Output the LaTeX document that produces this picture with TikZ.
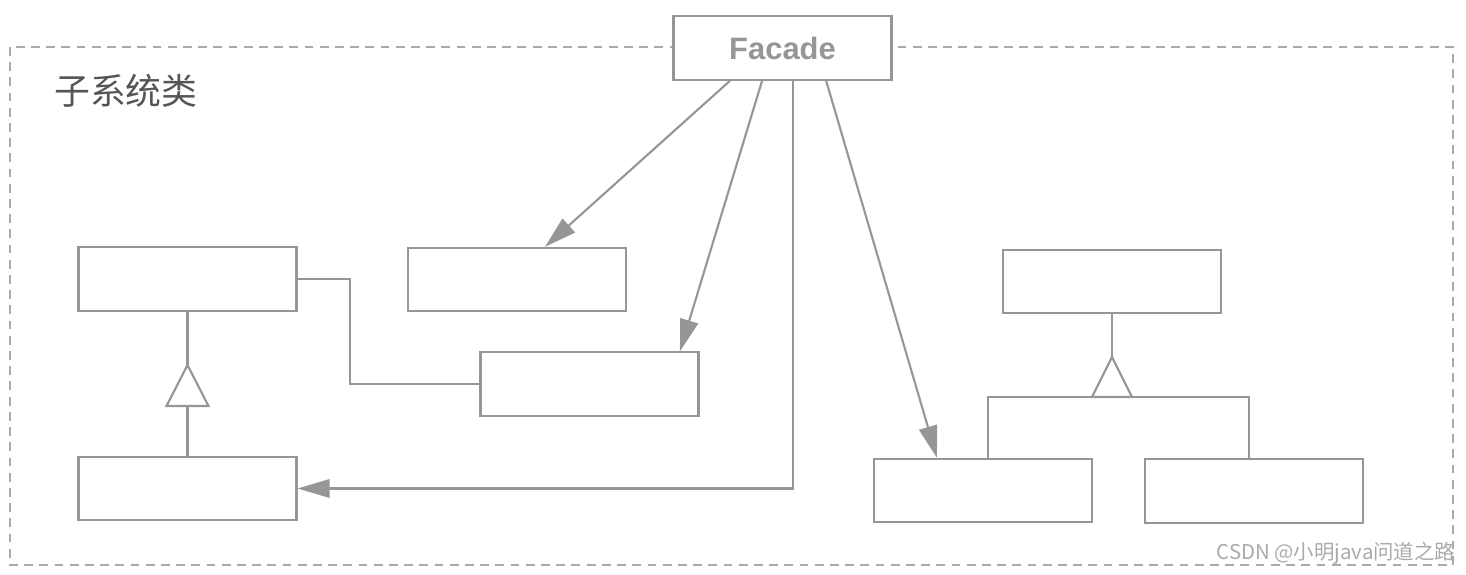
\documentclass[tikz,border=0pt]{standalone}
\usepackage{fontspec}
\setmainfont{Liberation Sans}
\newfontfamily\cjk{Noto Sans CJK SC}
\usepackage{tikz}
\usetikzlibrary{arrows.meta, positioning}
\definecolor{linegray}{RGB}{150,150,150}
\definecolor{framegray}{RGB}{170,170,170}
\definecolor{labelgray}{RGB}{85,85,85}

\begin{document}
\begin{tikzpicture}[x=0.025cm, y=-0.025cm,
    cls/.style={draw=linegray, line width=1.5pt, fill=white, minimum width=5.45cm, minimum height=1.58cm, inner sep=0pt},
    conn/.style={draw=linegray, line width=1.5pt},
    arr/.style={conn, -{Triangle[length=8mm, width=4.6mm]}, linegray}]
  \useasboundingbox (0,0) rectangle (1466,574);
  % subsystem frame
  \draw[framegray, line width=1.1pt, dash pattern=on 0.22cm off 0.16cm] (10,47) rectangle (1453,565);
  \node[labelgray, anchor=west, inner sep=0pt] (lbl) at (54,91) {\cjk\fontsize{25.5}{30}\selectfont 子系统类};
  % facade
  \node[cls] (fac) at (782.5,48) {\fontsize{22}{26}\selectfont\bfseries\color{linegray}Facade};
  % subsystem classes
  \node[cls] (a) at (187.5,279) {};
  \node[cls] (b) at (517,279.5) {};
  \node[cls] (c) at (589.5,384) {};
  \node[cls] (d) at (187.5,488.5) {};
  \node[cls] (e) at (1112,281.5) {};
  \node[cls] (f) at (983,490.5) {};
  \node[cls] (g) at (1254,491) {};
  % facade uses
  \draw[arr] ([xshift=-1.31cm]fac.south) -- ([xshift=0.7cm]b.north);
  \draw[arr] ([xshift=-0.51cm]fac.south) -- ([xshift=2.26cm]c.north);
  \draw[arr] ([xshift=0.26cm]fac.south) |- (d.east);
  \draw[arr] ([xshift=1.09cm]fac.south) -- ([xshift=-1.15cm]f.north);
  % association
  \draw[conn] (a.east) -- ++(52,0) |- (c.west);
  % left inheritance
  \coordinate (ta) at (187.5,365);
  \coordinate (tab) at (187.5,406);
  \draw[conn] (a.south) -- (ta);
  \draw[conn] (d.north) -- (tab);
  \draw[conn, fill=white] (ta) -- ++(-21,41) -- ++(42,0) -- cycle;
  % right inheritance
  \coordinate (te) at (1112,357);
  \coordinate (teb) at (1112,397);
  \draw[conn] (e.south) -- (te);
  \draw[conn] ([xshift=0.12cm]f.north) |- (teb) -| ([xshift=-0.12cm]g.north);
  \draw[conn, fill=white] (te) -- ++(-20,40) -- ++(40,0) -- cycle;
  % watermark
  \node[framegray, anchor=east] (wm) at (1460,553) {\cjk\fontsize{14.5}{17}\selectfont CSDN @小明java问道之路};
\end{tikzpicture}
\end{document}
